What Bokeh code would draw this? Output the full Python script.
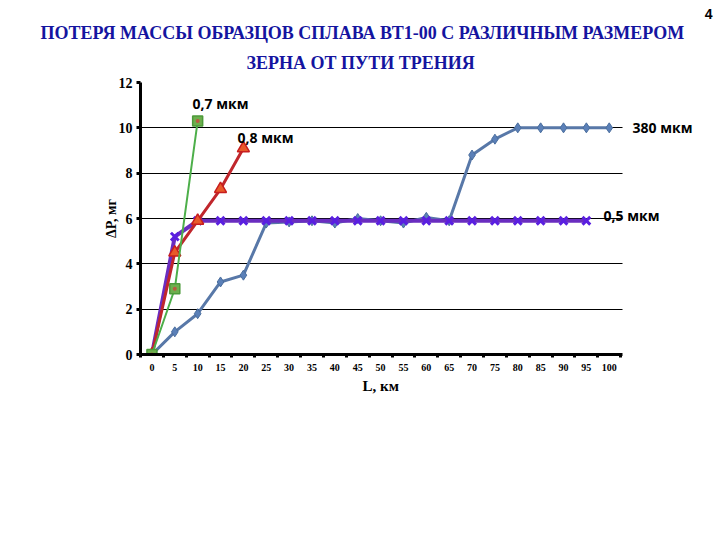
from bokeh.plotting import figure
from bokeh.models import Range1d, FixedTicker, Label, Title
from bokeh.embed import file_html
from bokeh.resources import INLINE

# distance, km
L_all = [0, 5, 10, 15, 20, 25, 30, 35, 40, 45, 50, 55, 60, 65, 70, 75, 80, 85, 90, 95, 100]
# 380 мкм
y_380 = [0, 1.0, 1.8, 3.2, 3.5, 5.8, 5.85, 5.9, 5.8, 6.0, 5.9, 5.8, 6.05, 5.9, 8.8, 9.5, 10, 10, 10, 10, 10]
# 0,5 мкм
L_05 = [0, 5, 10, 15, 20, 25, 30, 35, 40, 45, 50, 55, 60, 65, 70, 75, 80, 85, 90, 95]
y_05 = [0, 5.2, 5.9, 5.9, 5.9, 5.9, 5.9, 5.9, 5.9, 5.9, 5.9, 5.9, 5.9, 5.9, 5.9, 5.9, 5.9, 5.9, 5.9, 5.9]
# 0,8 мкм
L_08 = [0, 5, 10, 15, 20]
y_08 = [0, 4.5, 5.9, 7.3, 9.1]
# 0,7 мкм
L_07 = [0, 5, 10]
y_07 = [0, 2.9, 10.3]

x_ticks = list(range(0, 101, 5))
y_ticks = [0, 2, 4, 6, 8, 10, 12]
boundaries = [t - 2.5 for t in x_ticks] + [102.5]

W, H = 720, 540
# axis area in pixels
AL, AR, AT, AB = 140, 622, 82, 354
XS, XE = -2.5, 102.9
YS, YE = 0, 12
kx = (XE - XS) / (AR - AL)
ky = (YE - YS) / (AB - AT)
# frame extends to the right edge so side labels are not clipped
FR = W
XF = XS + (FR - AL) * kx

p = figure(width=W, height=H, output_backend="svg", toolbar_location=None,
           x_range=Range1d(XS, XF), y_range=Range1d(YS, YE),
           min_border_left=AL, min_border_right=0,
           min_border_top=AT, min_border_bottom=H - AB)
p.outline_line_color = None
p.background_fill_color = "white"
p.border_fill_color = "white"

def dx(px):
    return XS + (px - AL) * kx

def dy(py):
    return YS + (AB - py) * ky

serif = "Liberation Serif"

# grids
p.xgrid.grid_line_color = None
p.ygrid.ticker = FixedTicker(ticks=y_ticks)
p.ygrid.grid_line_color = "black"
p.ygrid.grid_line_width = 1
p.ygrid.cross_bounds = (XS, XE)

# x axis
p.xaxis.bounds = (XS, XE)
p.xaxis.ticker = FixedTicker(ticks=x_ticks, minor_ticks=boundaries)
p.xaxis.axis_line_width = 3
p.xaxis.axis_line_color = "black"
p.xaxis.major_tick_out = 0
p.xaxis.major_tick_in = 0
p.xaxis.minor_tick_out = 3
p.xaxis.minor_tick_in = 0
p.xaxis.minor_tick_line_width = 3
p.xaxis.minor_tick_line_color = "black"
p.xaxis.major_label_text_font = serif
p.xaxis.major_label_text_font_style = "bold"
p.xaxis.major_label_text_font_size = "10px"
p.xaxis.major_label_text_color = "black"
p.xaxis.major_label_standoff = 6

# y axis
p.yaxis.bounds = (YS, YE)
p.yaxis.ticker = FixedTicker(ticks=y_ticks)
p.yaxis.axis_line_width = 3
p.yaxis.axis_line_color = "black"
p.yaxis.major_tick_out = 4
p.yaxis.major_tick_in = 0
p.yaxis.major_tick_line_width = 3
p.yaxis.minor_tick_line_color = None
p.yaxis.major_label_text_font = serif
p.yaxis.major_label_text_font_style = "bold"
p.yaxis.major_label_text_font_size = "14px"
p.yaxis.major_label_text_color = "black"
p.yaxis.major_label_standoff = 4
p.yaxis.axis_label = "ΔP, мг"
p.yaxis.axis_label_text_font = serif
p.yaxis.axis_label_text_font_style = "bold"
p.yaxis.axis_label_text_font_size = "14px"
p.yaxis.axis_label_text_color = "black"
p.yaxis.axis_label_standoff = -3

# series
p.line(L_all, y_380, line_color="#5878A8", line_width=3)
p.scatter(L_all, y_380, marker="diamond", size=10, fill_color="#5B80B8", line_color="#4A6E9E")

p.line(L_05, y_05, line_color="#6A2DC0", line_width=4)
p.scatter(L_05, y_05, marker="x", size=11, line_color="#5A1FE0", line_width=3)

p.line(L_08, y_08, line_color="#C0262C", line_width=3)
p.scatter(L_08, y_08, marker="triangle", size=12, fill_color="#E85A2A", line_color="#C81E1E", line_width=1.5)

p.line(L_07, y_07, line_color="#4DAF4A", line_width=2)
p.scatter(L_07, y_07, marker="square", size=10, fill_color="#6DAF4E", line_color="#4C9A3A", line_width=1.5)
p.scatter(L_07, y_07, marker="circle", size=4, fill_color="#B85A40", line_color=None)

def lab(text, px, py, font="Open Sans", size="14px", style="bold", color="black", align="left", baseline="middle"):
    p.add_layout(Label(x=dx(px), y=dy(py), text=text, text_font=font, text_font_size=size,
                       text_font_style=style, text_color=color, text_align=align,
                       text_baseline=baseline))

# titles: p.title is outermost; later "above" items stack outward from the frame
title_color = "#1414A0"
p.title = Title(text="4", align="right", offset=8, text_font="Liberation Sans",
                text_font_size="14px", text_font_style="bold", text_color="black", standoff=7)
p.add_layout(Title(text="ЗЕРНА ОТ ПУТИ ТРЕНИЯ", align="left", offset=246 - AL,
                   text_font=serif, text_font_size="18px", text_font_style="bold",
                   text_color=title_color, standoff=20), "above")
p.add_layout(Title(text="ПОТЕРЯ МАССЫ ОБРАЗЦОВ СПЛАВА ВТ1-00 С РАЗЛИЧНЫМ РАЗМЕРОМ", align="left",
                   offset=40 - AL, text_font=serif, text_font_size="18px",
                   text_font_style="bold", text_color=title_color, standoff=-4,
                   text_line_height=0.7), "above")

# x axis title as a bottom title
p.add_layout(Title(text="L, км", align="left", offset=362 - AL, text_font=serif,
                   text_font_size="15px", text_font_style="bold", text_color="black",
                   standoff=4), "below")

# series labels
lab("0,7 мкм", 192, 103)
lab("0,8 мкм", 237, 137)
lab("380 мкм", 632, 127)
lab("0,5 мкм", 603, 215)

open("out.html", "w").write(file_html(p, INLINE))
